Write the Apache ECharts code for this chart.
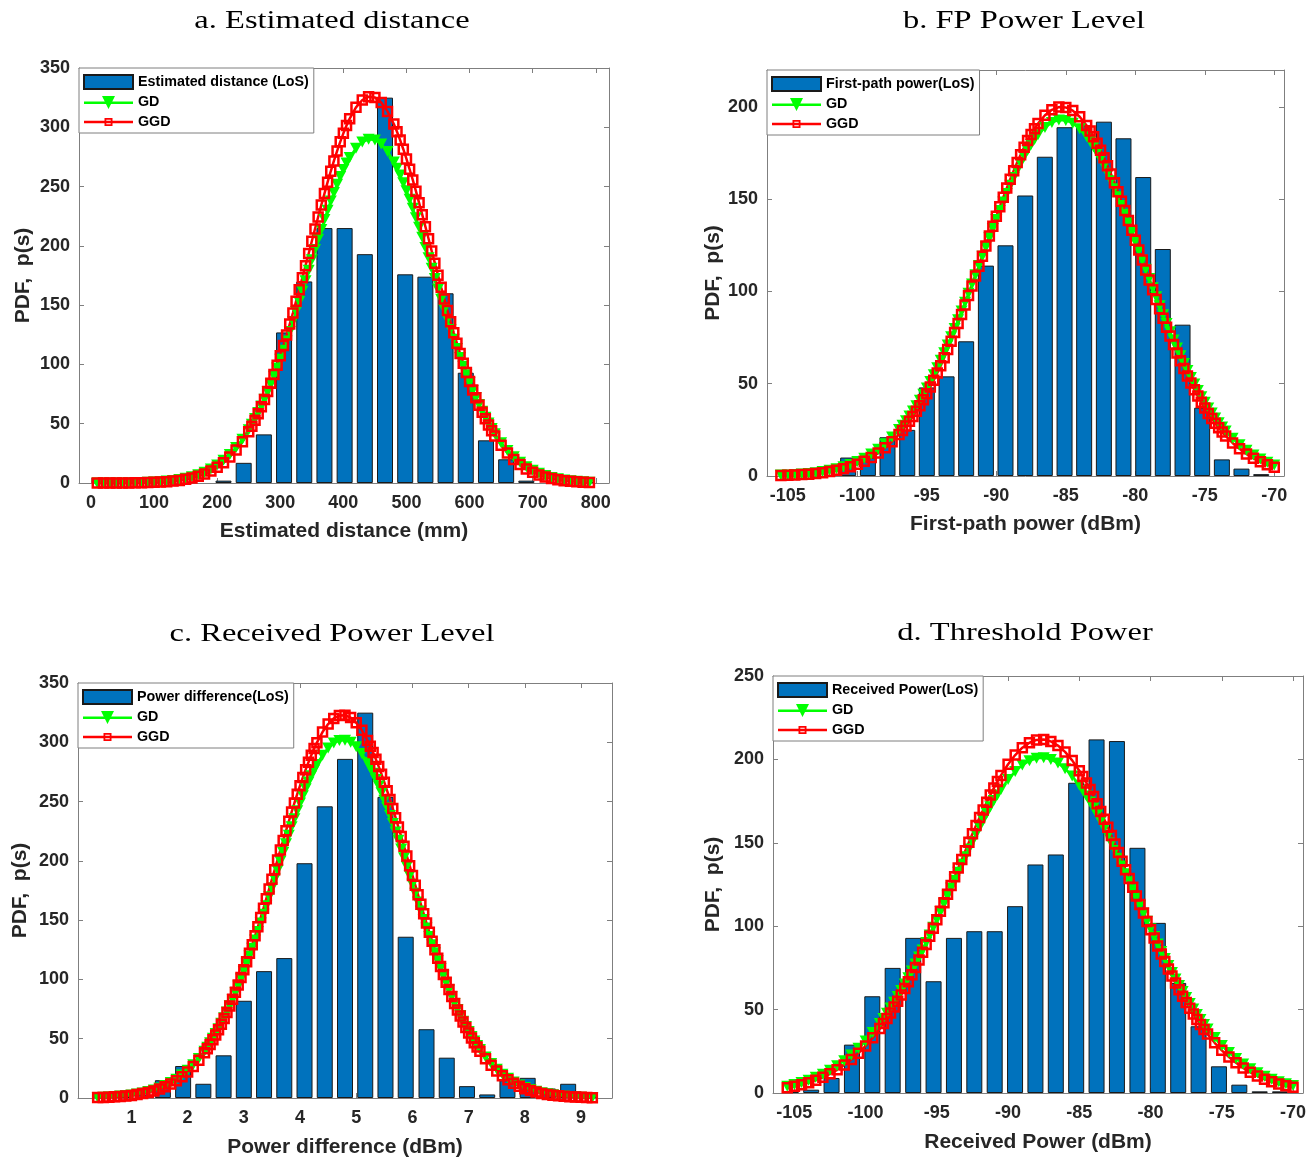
<!DOCTYPE html>
<html>
<head>
<meta charset="utf-8">
<title>PDF histograms with GD / GGD fits</title>
<script src="https://cdn.jsdelivr.net/npm/echarts@6/dist/echarts.min.js"></script>
<style>
  html, body { margin: 0; padding: 0; background: #ffffff; }
  #chart { width: 1315px; height: 1159px; }
</style>
</head>
<body>
<div id="chart"></div>
<script>
// ---------- a. Estimated distance ----------
const distBinCenters = [18, 50, 82, 114, 146, 178, 210, 242, 274, 306, 338, 370, 402, 434, 466, 498, 530, 562, 594, 626, 658, 690, 722, 754, 786];
const distCounts = [1, 0, 0, 5, 0, 0, 2, 17, 41, 127, 170, 215, 215, 193, 325, 176, 174, 160, 93, 36, 20, 2, 0, 0, 1];
// sampled every 10 mm, every 5 mm along the steep flanks
const distCurveX = [10, 20, 30, 40, 50, 60, 70, 80, 90, 100, 110, 120, 130, 140, 150, 160, 170, 180, 190, 200, 210, 220, 230, 240,
  250, 255, 260, 265, 270, 275, 280, 285, 290, 295, 300, 305, 310, 315, 320, 325, 330, 335, 340, 345, 350, 355, 360, 365, 370, 375,
  380, 385, 390, 395, 400, 405, 410,
  420, 430, 440, 450, 460, 470, 480,
  485, 490, 495, 500, 505, 510, 515, 520, 525, 530, 535, 540, 545, 550, 555, 560, 565, 570, 575, 580, 585, 590, 595, 600, 605, 610,
  615, 620, 625, 630, 635, 640,
  650, 660, 670, 680, 690, 700, 710, 720, 730, 740, 750, 760, 770, 780, 790];
const distGD = [0.0, 0.0, 0.1, 0.1, 0.1, 0.2, 0.3, 0.4, 0.6, 0.8, 1.1, 1.6, 2.2, 2.9, 4.0, 5.3, 7.0, 9.1, 11.8, 15.1, 19.2, 24.1, 30.0, 36.9,
  45.0, 49.5, 54.4, 59.5, 65.0, 70.7, 76.9, 83.2, 90.0, 97.0, 104.3, 111.9, 119.8, 127.8, 136.1, 144.6, 153.1, 161.8, 170.6, 179.4, 188.2, 196.9, 205.6, 213.9, 222.2, 230.1,
  237.9, 245.1, 252.0, 258.4, 264.4, 269.8, 274.6,
  282.4, 287.6, 289.9, 289.3, 285.9, 279.6, 270.8,
  265.5, 259.7, 253.3, 246.5, 239.3, 231.7, 223.8, 215.6, 207.2, 198.6, 189.9, 181.2, 172.4, 163.6, 154.9, 146.3, 137.8, 129.5, 121.3, 113.4, 105.8, 98.4, 91.3, 84.6, 78.1, 71.9,
  66.1, 60.6, 55.4, 50.5, 45.9, 41.6,
  34.0, 27.5, 22.1, 17.5, 13.7, 10.7, 8.2, 6.3, 4.7, 3.5, 2.6, 1.9, 1.4, 1.0, 0.7];
const distGGD = [0.0, 0.0, 0.0, 0.0, 0.1, 0.1, 0.2, 0.3, 0.4, 0.6, 0.8, 1.1, 1.6, 2.2, 3.1, 4.2, 5.7, 7.6, 10.1, 13.2, 17.1, 21.9, 27.8, 34.8,
  43.2, 47.9, 53.0, 58.4, 64.3, 70.5, 77.2, 84.1, 91.5, 99.3, 107.4, 116.0, 124.8, 134.0, 143.4, 153.2, 163.0, 173.1, 183.3, 193.6, 203.9, 214.2, 224.3, 234.4, 244.1, 253.7,
  262.9, 271.6, 279.9, 287.7, 294.9, 301.5, 307.3,
  316.8, 323.0, 325.8, 325.1, 320.9, 313.4, 302.7,
  296.2, 289.2, 281.5, 273.3, 264.6, 255.6, 246.1, 236.3, 226.3, 216.2, 206.0, 195.7, 185.4, 175.2, 165.1, 155.1, 145.4, 135.9, 126.7, 117.8, 109.2, 101.0, 93.1, 85.6, 78.5, 71.8,
  65.5, 59.6, 54.1, 48.9, 44.1, 39.7,
  31.9, 25.3, 19.9, 15.5, 11.9, 9.1, 6.8, 5.1, 3.7, 2.7, 2.0, 1.4, 1.0, 0.7, 0.5];
const distTicks = [0, 100, 200, 300, 400, 500, 600, 700, 800];

const dbmTicks = [-105, -100, -95, -90, -85, -80, -75, -70];

// ---------- b. First-path (FP) power level ----------
const fpBinCenters = [-104.90, -103.49, -102.07, -100.66, -99.24, -97.83, -96.41, -95.00, -93.58, -92.17, -90.75, -89.34, -87.92,
  -86.51, -85.09, -83.68, -82.26, -80.85, -79.43, -78.02, -76.60, -75.19, -73.77, -72.36, -70.94];
const fpCounts = [1, 0, 0, 10, 10, 21, 25, 48, 54, 73, 114, 125, 152, 173, 189, 190, 192, 183, 162, 123, 82, 37, 9, 4, 1];
// sampled every 0.5 dBm, every 0.25 dBm along the steep flanks
const fpCurveX = [-105.5, -105, -104.5, -104, -103.5, -103, -102.5, -102, -101.5, -101, -100.5, -100, -99.5, -99, -98.5, -98, -97.5, -97,
  -96.75, -96.5, -96.25, -96, -95.75, -95.5, -95.25, -95, -94.75, -94.5, -94.25, -94, -93.75, -93.5, -93.25, -93, -92.75, -92.5, -92.25, -92,
  -91.75, -91.5, -91.25, -91, -90.75, -90.5, -90.25, -90, -89.75, -89.5, -89.25, -89, -88.75, -88.5, -88.25, -88, -87.75, -87.5, -87.25, -87,
  -86.5, -86, -85.5, -85, -84.5, -84, -83.5,
  -83.25, -83, -82.75, -82.5, -82.25, -82, -81.75, -81.5, -81.25, -81, -80.75, -80.5, -80.25, -80, -79.75, -79.5, -79.25, -79, -78.75, -78.5,
  -78.25, -78, -77.75, -77.5, -77.25, -77, -76.75, -76.5, -76.25, -76, -75.75, -75.5, -75.25, -75, -74.75, -74.5, -74.25, -74, -73.75, -73.5,
  -73, -72.5, -72, -71.5, -71, -70.5, -70];
const fpGD = [0.5, 0.6, 0.8, 1.1, 1.4, 1.8, 2.4, 3.1, 3.9, 5.0, 6.2, 7.8, 9.6, 11.9, 14.5, 17.5, 21.1, 25.2,
  27.5, 29.9, 32.5, 35.2, 38.1, 41.1, 44.3, 47.7, 51.2, 54.9, 58.7, 62.7, 66.8, 71.0, 75.4, 79.9, 84.6, 89.4, 94.1, 99.0,
  104.0, 109.0, 114.0, 119.1, 124.1, 129.1, 134.1, 139.0, 143.8, 148.5, 153.1, 157.5, 161.7, 165.7, 169.6, 173.2, 176.5, 179.6, 182.4, 184.9,
  188.9, 191.6, 192.9, 192.7, 191.2, 188.2, 183.9,
  181.3, 178.4, 175.2, 171.8, 168.1, 164.1, 160.0, 155.7, 151.3, 146.6, 141.9, 137.1, 132.1, 127.1, 122.1, 117.1, 112.0, 107.0, 102.0, 97.1,
  92.2, 87.4, 82.7, 78.1, 73.7, 69.3, 65.1, 61.0, 57.1, 53.4, 49.8, 46.3, 43.0, 39.9, 36.9, 34.1, 31.4, 28.9, 26.6, 24.4,
  20.4, 16.9, 13.9, 11.4, 9.2, 7.4, 5.9];
const fpGGD = [0.3, 0.4, 0.6, 0.8, 1.0, 1.4, 1.8, 2.4, 3.1, 3.9, 5.0, 6.4, 8.0, 10.0, 12.4, 15.3, 18.6, 22.5,
  24.7, 27.1, 29.6, 32.2, 35.1, 38.1, 41.3, 44.6, 48.2, 51.9, 55.8, 59.8, 64.1, 68.5, 73.0, 77.7, 82.6, 87.5, 92.6, 97.8,
  103.0, 108.4, 113.7, 119.1, 124.6, 130.0, 135.3, 140.7, 145.9, 151.0, 156.0, 160.8, 165.4, 169.9, 174.1, 178.1, 181.8, 185.1, 188.2, 191.0,
  195.5, 198.4, 199.9, 199.7, 198.0, 194.7, 189.9,
  187.0, 183.8, 180.3, 176.5, 172.4, 168.1, 163.6, 158.9, 154.0, 148.9, 143.8, 138.5, 133.2, 127.8, 122.4, 117.0, 111.6, 106.2, 100.9, 95.7,
  90.6, 85.5, 80.6, 75.8, 71.2, 66.7, 62.4, 58.2, 54.2, 50.4, 46.7, 43.3, 40.0, 36.8, 33.9, 31.1, 28.6, 26.1, 23.8, 21.7,
  17.9, 14.7, 11.9, 9.6, 7.7, 6.1, 4.8];

// ---------- c. Power difference ----------
const powBinCenters = [0.48, 0.84, 1.20, 1.56, 1.92, 2.28, 2.64, 3.00, 3.36, 3.72, 4.08, 4.44, 4.80, 5.16, 5.52, 5.88,
  6.25, 6.61, 6.97, 7.33, 7.69, 8.05, 8.41, 8.77, 9.13];
const powCounts = [2, 1, 3, 15, 27, 12, 36, 82, 107, 118, 198, 246, 286, 325, 254, 136, 58, 34, 10, 3, 15, 17, 8, 12, 4];
// sampled every 0.1 dBm, every 0.05 dBm along the steep flanks
const powCurveX = [0.4, 0.5, 0.6, 0.7, 0.8, 0.9, 1.0, 1.1, 1.2, 1.3, 1.4, 1.5, 1.6, 1.7, 1.8, 1.9, 2.0, 2.1, 2.2, 2.3,
  2.35, 2.4, 2.45, 2.5, 2.55, 2.6, 2.65, 2.7, 2.75, 2.8, 2.85, 2.9, 2.95, 3.0, 3.05, 3.1, 3.15, 3.2, 3.25, 3.3,
  3.35, 3.4, 3.45, 3.5, 3.55, 3.6, 3.65, 3.7, 3.75, 3.8, 3.85, 3.9, 3.95, 4.0, 4.05, 4.1, 4.15, 4.2, 4.25, 4.3,
  4.4, 4.5, 4.6, 4.7, 4.8, 4.9, 5.0, 5.1, 5.2,
  5.25, 5.3, 5.35, 5.4, 5.45, 5.5, 5.55, 5.6, 5.65, 5.7, 5.75, 5.8, 5.85, 5.9, 5.95, 6.0, 6.05, 6.1, 6.15, 6.2,
  6.25, 6.3, 6.35, 6.4, 6.45, 6.5, 6.55, 6.6, 6.65, 6.7, 6.75, 6.8, 6.85, 6.9, 6.95, 7.0, 7.05, 7.1, 7.15, 7.2,
  7.3, 7.4, 7.5, 7.6, 7.7, 7.8, 7.9, 8.0, 8.1, 8.2, 8.3, 8.4, 8.5, 8.6, 8.7, 8.8, 8.9, 9.0, 9.1, 9.2];
const powGD = [0.5, 0.7, 0.9, 1.2, 1.6, 2.0, 2.6, 3.4, 4.3, 5.4, 6.8, 8.5, 10.5, 13.0, 15.9, 19.3, 23.4, 28.0, 33.4, 39.5,
  42.9, 46.5, 50.3, 54.3, 58.5, 63.0, 67.7, 72.6, 77.7, 83.1, 88.7, 94.5, 100.5, 106.6, 113.1, 119.7, 126.4, 133.3, 140.4, 147.6,
  154.9, 162.2, 169.7, 177.2, 184.7, 192.1, 199.7, 207.0, 214.4, 221.6, 228.7, 235.6, 242.3, 248.8, 254.9, 260.9, 266.5, 271.8, 276.7, 281.3,
  289.1, 295.2, 299.4, 301.6, 301.8, 300.0, 296.2, 290.5, 283.0,
  278.6, 273.8, 268.7, 263.2, 257.4, 251.2, 244.9, 238.3, 231.5, 224.4, 217.3, 210.0, 202.6, 195.2, 187.7, 180.2, 172.7, 165.2, 157.8, 150.5,
  143.3, 136.1, 129.2, 122.4, 115.7, 109.2, 102.9, 96.9, 91.0, 85.3, 79.8, 74.6, 69.6, 64.8, 60.3, 56.0, 51.9, 48.0, 44.3, 40.9,
  34.6, 29.1, 24.3, 20.1, 16.6, 13.5, 11.0, 8.9, 7.1, 5.7, 4.5, 3.5, 2.8, 2.1, 1.6, 1.3, 1.0, 0.7, 0.5, 0.4];
const powGGD = [0.4, 0.5, 0.7, 1.0, 1.3, 1.7, 2.2, 2.9, 3.7, 4.7, 6.0, 7.6, 9.5, 11.8, 14.6, 18.0, 21.9, 26.6, 31.9, 38.1,
  41.5, 45.2, 49.1, 53.2, 57.6, 62.2, 67.1, 72.2, 77.6, 83.2, 89.1, 95.2, 101.6, 108.2, 115.0, 122.1, 129.3, 136.8, 144.4, 152.2,
  160.1, 168.1, 176.2, 184.4, 192.6, 200.8, 209.1, 217.2, 225.3, 233.3, 241.1, 248.8, 256.2, 263.4, 270.3, 276.9, 283.2, 289.1, 294.7, 299.7,
  308.6, 315.4, 320.1, 322.6, 322.8, 320.8, 316.5, 310.1, 301.6,
  296.7, 291.4, 285.6, 279.5, 273.0, 266.2, 259.1, 251.8, 244.2, 236.4, 228.5, 220.5, 212.3, 204.1, 195.9, 187.7, 179.5, 171.4, 163.3, 155.3,
  147.5, 139.8, 132.3, 125.0, 117.8, 110.9, 104.2, 97.7, 91.5, 85.5, 79.8, 74.3, 69.1, 64.1, 59.4, 54.9, 50.7, 46.7, 43.0, 39.5,
  33.1, 27.6, 22.8, 18.7, 15.3, 12.4, 9.9, 7.9, 6.3, 5.0, 3.9, 3.0, 2.3, 1.8, 1.4, 1.0, 0.8, 0.6, 0.4, 0.3];
const powTicks = [1, 2, 3, 4, 5, 6, 7, 8, 9];

// ---------- d. Received power ----------
const rxBinCenters = [-105.25, -103.82, -102.39, -100.96, -99.53, -98.10, -96.66, -95.23, -93.80, -92.37, -90.94, -89.51, -88.08,
  -86.65, -85.22, -83.79, -82.36, -80.92, -79.49, -78.06, -76.63, -75.20, -73.77, -72.34, -70.91];
const rxCounts = [1, 2, 9, 29, 58, 75, 93, 67, 93, 97, 97, 112, 137, 143, 186, 212, 211, 147, 102, 66, 40, 16, 5, 1, 1];
// sampled every 0.5 dBm, every 0.25 dBm along the steep flanks
const rxCurveX = [-105.5, -105, -104.5, -104, -103.5, -103, -102.5, -102, -101.5, -101, -100.5, -100, -99.5, -99,
  -98.75, -98.5, -98.25, -98, -97.75, -97.5, -97.25, -97, -96.75, -96.5, -96.25, -96, -95.75, -95.5, -95.25, -95, -94.75,
  -94.5, -94.25, -94, -93.75, -93.5, -93.25, -93, -92.75, -92.5, -92.25, -92, -91.75, -91.5, -91.25, -91, -90.75, -90.5,
  -90, -89.5, -89, -88.5, -88, -87.5, -87, -86.5, -86, -85.5, -85,
  -84.75, -84.5, -84.25, -84, -83.75, -83.5, -83.25, -83, -82.75, -82.5, -82.25, -82, -81.75, -81.5, -81.25, -81, -80.75, -80.5,
  -80.25, -80, -79.75, -79.5, -79.25, -79, -78.75, -78.5, -78.25, -78, -77.75, -77.5, -77.25, -77, -76.75, -76.5, -76.25, -76,
  -75.5, -75, -74.5, -74, -73.5, -73, -72.5, -72, -71.5, -71, -70.5, -70];
const rxGD = [4.1, 5.1, 6.3, 7.7, 9.4, 11.3, 13.6, 16.3, 19.3, 22.8, 26.8, 31.2, 36.2, 41.7,
  44.7, 47.8, 51.0, 54.4, 57.9, 61.5, 65.3, 69.1, 73.1, 77.3, 81.5, 85.8, 90.2, 94.7, 99.3, 104.0, 108.6,
  113.4, 118.1, 122.9, 127.6, 132.4, 137.1, 141.7, 146.3, 150.8, 155.3, 159.5, 163.7, 167.7, 171.6, 175.3, 178.7, 182.0,
  187.9, 192.8, 196.6, 199.2, 200.7, 201.0, 200.0, 197.8, 194.4, 190.0, 184.5,
  181.4, 178.1, 174.5, 170.8, 166.9, 162.9, 158.7, 154.4, 149.9, 145.4, 140.8, 136.1, 131.4, 126.7, 121.9, 117.2, 112.4, 107.7,
  103.0, 98.4, 93.8, 89.3, 84.9, 80.6, 76.4, 72.3, 68.4, 64.5, 60.8, 57.2, 53.7, 50.4, 47.1, 44.1, 41.1, 38.4,
  33.2, 28.5, 24.3, 20.7, 17.4, 14.6, 12.2, 10.1, 8.3, 6.8, 5.5, 4.5];
const rxGGD = [3.1, 4.0, 5.0, 6.2, 7.7, 9.4, 11.5, 13.9, 16.8, 20.1, 23.9, 28.2, 33.1, 38.6,
  41.6, 44.7, 48.0, 51.5, 55.0, 58.8, 62.7, 66.7, 70.9, 75.3, 79.8, 84.4, 89.1, 93.9, 98.8, 103.8, 108.9,
  114.0, 119.2, 124.4, 129.6, 134.9, 140.0, 145.2, 150.3, 155.4, 160.3, 165.1, 169.7, 174.3, 178.6, 182.8, 186.7, 190.4,
  197.1, 202.6, 207.0, 210.0, 211.7, 211.9, 210.8, 208.3, 204.5, 199.4, 193.2,
  189.7, 185.9, 182.0, 177.8, 173.4, 168.8, 164.1, 159.3, 154.4, 149.3, 144.2, 139.0, 133.8, 128.6, 123.4, 118.1, 113.0, 107.9,
  102.8, 97.8, 92.9, 88.1, 83.4, 78.8, 74.4, 70.1, 65.9, 61.9, 58.0, 54.3, 50.8, 47.3, 44.1, 41.0, 38.0, 35.3,
  30.1, 25.6, 21.6, 18.1, 15.0, 12.4, 10.2, 8.3, 6.7, 5.4, 4.3, 3.5];

// ---------- y (PDF) tick values ----------
const pdfTicks350 = [0, 50, 100, 150, 200, 250, 300, 350];
const pdfTicks200 = [0, 50, 100, 150, 200];
const pdfTicks250 = [0, 50, 100, 150, 200, 250];

// ---------- styling ----------
const SANS = '"Liberation Sans", Arial, Helvetica, sans-serif';
const SERIF = '"Liberation Serif", "Times New Roman", Times, serif';
const INK = '#262626';
const FRAME = '#7f7f7f';
const BAR_BLUE = '#0072bd';
const BAR_EDGE = '#1a1a1a';
const GD_GREEN = '#00ff00';
const GGD_RED = '#ff0000';

// legend glyphs: a line with a down-triangle, and a line with a hollow square
const GD_ICON = 'path://M0,6 L49,6 L49,8.4 L0,8.4 Z M18,0.5 L31,0.5 L24.5,13.5 Z';
const GGD_ICON = 'path://M0,5.8 L49,5.8 L49,8.2 L0,8.2 Z M20.5,3 L28.5,3 L28.5,11 L20.5,11 Z M22.3,4.8 L22.3,9.2 L26.7,9.2 L26.7,4.8 Z';

const panels = [
  {
    title: 'a. Estimated distance', titleX: 332, titleY: 21,
    grid: { left: 79, top: 68, width: 530, height: 415 },
    xMin: -19, xMax: 821, xTicks: distTicks, yMax: 350, yTicks: pdfTicks350,
    xName: 'Estimated distance (mm)', histName: 'Estimated distance (LoS)',
    centers: distBinCenters, counts: distCounts, curveX: distCurveX, gd: distGD, ggd: distGGD,
    xNameGap: 38, yNameGap: 45
  },
  {
    title: 'b. FP Power Level', titleX: 1024, titleY: 21,
    grid: { left: 767, top: 70, width: 517, height: 406 },
    xMin: -106.5, xMax: -69.3, xTicks: dbmTicks, yMax: 220, yTicks: pdfTicks200,
    xName: 'First-path power (dBm)', histName: 'First-path power(LoS)',
    centers: fpBinCenters, counts: fpCounts, curveX: fpCurveX, gd: fpGD, ggd: fpGGD,
    xNameGap: 38, yNameGap: 43
  },
  {
    title: 'c. Received Power Level', titleX: 332, titleY: 634,
    grid: { left: 78, top: 683, width: 534, height: 415 },
    xMin: 0.05, xMax: 9.55, xTicks: powTicks, yMax: 350, yTicks: pdfTicks350,
    xName: 'Power difference (dBm)', histName: 'Power difference(LoS)',
    centers: powBinCenters, counts: powCounts, curveX: powCurveX, gd: powGD, ggd: powGGD,
    xNameGap: 39, yNameGap: 47
  },
  {
    title: 'd. Threshold Power', titleX: 1025, titleY: 633,
    grid: { left: 773, top: 676, width: 530, height: 417 },
    xMin: -106.5, xMax: -69.3, xTicks: dbmTicks, yMax: 250, yTicks: pdfTicks250,
    xName: 'Received Power (dBm)', histName: 'Received Power(LoS)',
    centers: rxBinCenters, counts: rxCounts, curveX: rxCurveX, gd: rxGD, ggd: rxGGD,
    xNameGap: 39, yNameGap: 49
  }
];

const tickLabel = { color: INK, fontFamily: SANS, fontWeight: 'bold', fontSize: 18 };
const axisNameStyle = { color: INK, fontFamily: SANS, fontWeight: 'bold', fontSize: 21 };

const option = {
  animation: false,
  backgroundColor: '#ffffff',
  graphic: panels.map(p => ({
    type: 'text', x: p.titleX, y: p.titleY, scaleX: 1.3, silent: true,
    style: {
      text: p.title, fontFamily: SERIF, fontSize: 25, fill: '#000000',
      align: 'center', verticalAlign: 'middle', textAlign: 'center', textVerticalAlign: 'middle'
    }
  })),
  grid: panels.map(p => Object.assign({ show: false, containLabel: false, outerBoundsMode: 'none' }, p.grid)),
  legend: panels.map(p => ({
    left: p.grid.left, top: p.grid.top,
    orient: 'vertical',
    padding: [6, 5, 4, 4],
    itemGap: 5.5, itemWidth: 49, itemHeight: 14,
    backgroundColor: '#ffffff', borderColor: FRAME, borderWidth: 1, borderRadius: 0,
    selectedMode: false,
    textStyle: { color: '#000000', fontFamily: SANS, fontWeight: 'bold', fontSize: 14.3 },
    data: [
      { name: p.histName, icon: 'rect' },
      { name: 'GD', icon: GD_ICON, itemStyle: { color: GD_GREEN, borderWidth: 0 } },
      { name: 'GGD', icon: GGD_ICON, itemStyle: { color: GGD_RED, borderWidth: 0 } }
    ]
  })),
  xAxis: [],
  yAxis: [],
  series: []
};

panels.forEach((p, i) => {
  const frameLine = { show: true, onZero: false, lineStyle: { color: FRAME, width: 1 } };
  // bottom axis (labelled) and top axis (frame + ticks only)
  option.xAxis.push({
    type: 'value', gridIndex: i, position: 'bottom', min: p.xMin, max: p.xMax,
    axisLine: frameLine,
    axisTick: { show: true, inside: true, length: 5, lineStyle: { color: FRAME }, customValues: p.xTicks },
    axisLabel: Object.assign({ margin: 11, customValues: p.xTicks }, tickLabel),
    splitLine: { show: false },
    name: p.xName, nameLocation: 'middle', nameGap: p.xNameGap, nameTextStyle: axisNameStyle,
    nameMoveOverlap: false
  }, {
    type: 'value', gridIndex: i, position: 'top', min: p.xMin, max: p.xMax,
    axisLine: frameLine,
    axisTick: { show: true, inside: true, length: 5, lineStyle: { color: FRAME }, customValues: p.xTicks },
    axisLabel: { show: false },
    splitLine: { show: false }
  });
  // left axis (labelled) and right axis (frame + ticks only)
  option.yAxis.push({
    type: 'value', gridIndex: i, position: 'left', min: 0, max: p.yMax,
    axisLine: frameLine,
    axisTick: { show: true, inside: true, length: 5, lineStyle: { color: FRAME }, customValues: p.yTicks },
    axisLabel: Object.assign({ margin: 9, customValues: p.yTicks }, tickLabel),
    splitLine: { show: false },
    name: 'PDF,  p(s)', nameLocation: 'middle', nameGap: p.yNameGap, nameTextStyle: axisNameStyle,
    nameMoveOverlap: false
  }, {
    type: 'value', gridIndex: i, position: 'right', min: 0, max: p.yMax,
    axisLine: frameLine,
    axisTick: { show: true, inside: true, length: 5, lineStyle: { color: FRAME }, customValues: p.yTicks },
    axisLabel: { show: false },
    splitLine: { show: false }
  });

  const xi = 2 * i, yi = 2 * i;
  option.series.push(
    {
      type: 'bar', name: p.histName, xAxisIndex: xi, yAxisIndex: yi,
      barWidth: 16,
      data: p.centers.map((c, k) => [c, p.counts[k]]).filter(d => d[1] > 0),
      itemStyle: { color: BAR_BLUE, borderColor: BAR_EDGE, borderWidth: 1 },
      emphasis: { disabled: true }, silent: true
    },
    {
      type: 'line', name: 'GD', xAxisIndex: xi, yAxisIndex: yi,
      data: p.curveX.map((x, k) => [x, p.gd[k]]),
      symbol: 'triangle', symbolRotate: 180, symbolSize: [12, 11], showAllSymbol: true,
      lineStyle: { color: GD_GREEN, width: 2.5 },
      itemStyle: { color: GD_GREEN },
      clip: false, emphasis: { disabled: true }, silent: true
    },
    {
      type: 'line', name: 'GGD', xAxisIndex: xi, yAxisIndex: yi,
      data: p.curveX.map((x, k) => [x, p.ggd[k]]),
      symbol: 'rect', symbolSize: 9, showAllSymbol: true,
      lineStyle: { color: GGD_RED, width: 2.5 },
      itemStyle: { color: 'rgba(255,255,255,0)', borderColor: GGD_RED, borderWidth: 2.5 },
      clip: false, emphasis: { disabled: true }, silent: true
    }
  );
});

const chart = echarts.init(document.getElementById('chart'), null, { renderer: 'canvas' });
chart.setOption(option);
</script>
</body>
</html>
